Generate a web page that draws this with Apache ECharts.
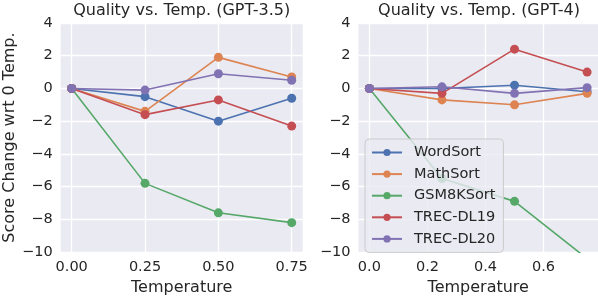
<!DOCTYPE html>
<html>
<head>
<meta charset="utf-8">
<script src="https://cdn.jsdelivr.net/npm/echarts@6/dist/echarts.min.js"></script>
<style>
html,body{margin:0;padding:0;background:#fff;}
#chart{width:598px;height:301px;}
</style>
</head>
<body>
<div id="chart"></div>
<script>
// ---- data ----
const temps = [0, 0.25, 0.5, 0.75];
const seriesNames = ['WordSort', 'MathSort', 'GSM8KSort', 'TREC-DL19', 'TREC-DL20'];
const colors = ['#4C72B0', '#DD8452', '#55A868', '#C44E52', '#8172B3'];

// GPT-3.5
const gpt35WordSort = [0, -0.5, -2.0, -0.6];
const gpt35MathSort = [0, -1.4, 1.9, 0.7];
const gpt35GSM8KSort = [0, -5.8, -7.6, -8.2];
const gpt35TrecDL19 = [0, -1.6, -0.7, -2.3];
const gpt35TrecDL20 = [0, -0.1, 0.9, 0.5];

// GPT-4
const gpt4WordSort = [0, 0.0, 0.2, -0.2];
const gpt4MathSort = [0, -0.7, -1.0, -0.3];
const gpt4GSM8KSort = [0, -5.5, -6.9, -10.4];
const gpt4TrecDL19 = [0, -0.3, 2.4, 1.0];
const gpt4TrecDL20 = [0, 0.1, -0.3, 0.05];

const leftTicks = [0, 0.25, 0.5, 0.75];
const rightTicks = [0, 0.2, 0.4, 0.6];

const titles = ['Quality vs. Temp. (GPT-3.5)', 'Quality vs. Temp. (GPT-4)'];
const xLabel = 'Temperature';
const yLabel = 'Score Change wrt 0 Temp.';

const gpt35 = [gpt35WordSort, gpt35MathSort, gpt35GSM8KSort, gpt35TrecDL19, gpt35TrecDL20];
const gpt4 = [gpt4WordSort, gpt4MathSort, gpt4GSM8KSort, gpt4TrecDL19, gpt4TrecDL20];

// ---- chart ----
const FONT = 'DejaVu Sans';
const TXT = '#262626';
const chart = echarts.init(document.getElementById('chart'), null, {renderer: 'canvas'});

const minus = s => String(s).replace('-', '\u2212');

function xAxis(gridIndex, ticks, decimals) {
  return {
    type: 'value', gridIndex: gridIndex,
    min: -0.0375, max: 0.7875,
    name: xLabel, nameLocation: 'middle', nameGap: 23,
    nameTextStyle: {fontFamily: FONT, fontSize: 16, color: TXT},
    axisLine: {show: false},
    axisTick: {show: false, customValues: ticks},
    axisLabel: {customValues: ticks, fontFamily: FONT, fontSize: 14.5, color: TXT, margin: 8,
      formatter: v => minus(v.toFixed(decimals))},
    splitLine: {show: true, lineStyle: {color: '#ffffff', width: 1.3}}
  };
}
function yAxis(gridIndex, showName) {
  return {
    type: 'value', gridIndex: gridIndex,
    min: -10, max: 4, interval: 2,
    name: showName ? yLabel : '', nameLocation: 'middle', nameGap: 42, nameRotate: 90,
    nameTextStyle: {fontFamily: FONT, fontSize: 16, color: TXT},
    axisLine: {show: false},
    axisTick: {show: false},
    axisLabel: {fontFamily: FONT, fontSize: 14.5, color: TXT, margin: 8,
      formatter: v => minus(v)},
    splitLine: {show: true, lineStyle: {color: '#ffffff', width: 1.3}}
  };
}

const series = [];
[gpt35, gpt4].forEach((group, gi) => {
  group.forEach((vals, si) => {
    series.push({
      name: seriesNames[si], type: 'line',
      xAxisIndex: gi, yAxisIndex: gi,
      data: temps.map((t, k) => [t, vals[k]]),
      symbol: 'circle', symbolSize: 9,
      clip: true,
      lineStyle: {color: colors[si], width: 1.6},
      itemStyle: {color: colors[si]},
      emphasis: {disabled: true},
      animation: false
    });
  });
});

chart.setOption({
  animation: false,
  backgroundColor: '#ffffff',
  title: [
    {text: titles[0], left: 181.7, top: 3, textAlign: 'center', padding: 0,
     textStyle: {fontFamily: FONT, fontSize: 16, fontWeight: 'normal', color: TXT}},
    {text: titles[1], left: 479, top: 3, textAlign: 'center', padding: 0,
     textStyle: {fontFamily: FONT, fontSize: 16, fontWeight: 'normal', color: TXT}}
  ],
  grid: [
    {left: 60.7, top: 23, width: 242, height: 237, show: true, backgroundColor: '#EAEAF2', borderWidth: 0},
    {left: 358.5, top: 23, width: 242, height: 237, show: true, backgroundColor: '#EAEAF2', borderWidth: 0}
  ],
  xAxis: [xAxis(0, leftTicks, 2), xAxis(1, rightTicks, 1)],
  yAxis: [yAxis(0, true), yAxis(1, false)],
  legend: {
    data: seriesNames,
    orient: 'vertical',
    left: 365, top: 139,
    padding: [5, 8, 5, 6],
    itemWidth: 30, itemHeight: 9, itemGap: 4.6,
    backgroundColor: 'rgba(234,234,242,0.8)',
    borderColor: '#cccccc', borderWidth: 1, borderRadius: 4,
    textStyle: {fontFamily: FONT, fontSize: 14.5, color: TXT, lineHeight: 17, padding: [0, 0, 0, 7]},
    selectedMode: false
  },
  series: series
});
</script>
</body>
</html>
